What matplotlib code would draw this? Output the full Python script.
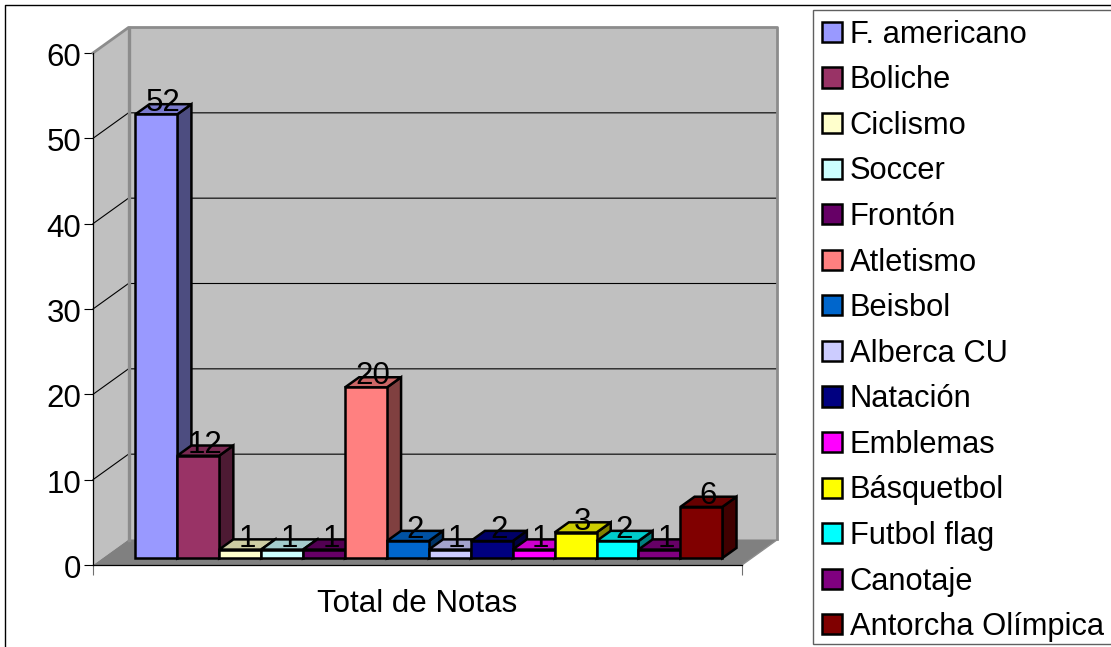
import matplotlib
matplotlib.use("Agg")
import matplotlib.pyplot as plt
from matplotlib.patches import Patch, Polygon, Rectangle
from matplotlib.lines import Line2D
from matplotlib.colors import to_rgb
from matplotlib.transforms import ScaledTranslation

categories = ["F. americano", "Boliche", "Ciclismo", "Soccer", "Frontón", "Atletismo", "Beisbol",
              "Alberca CU", "Natación", "Emblemas", "Básquetbol", "Futbol flag", "Canotaje",
              "Antorcha Olímpica"]
values = [52, 12, 1, 1, 1, 20, 2, 1, 2, 1, 3, 2, 1, 6]
colors = ["#9999FF", "#993366", "#FFFFCC", "#CCFFFF", "#660066", "#FF8080", "#0066CC",
          "#CCCCFF", "#000080", "#FF00FF", "#FFFF00", "#00FFFF", "#800080", "#800000"]
yticks = [0, 10, 20, 30, 40, 50, 60]
axis_title = "Total de Notas"

W, H = 1111, 647
FS = 22.5
LEG_FS = 22.2
LW = 1.8
plt.rcParams["font.family"] = ["Liberation Sans", "DejaVu Sans"]
fig = plt.figure(figsize=(W / 100, H / 100), dpi=100, facecolor="white")

# front plane of the 3-D box, in pixels
L, R, B, T = 93, 742, 565, 53
ax = fig.add_axes([L / W, 1 - B / H, (R - L) / W, (B - T) / H])
PX_X = 41.93
PX_Y = (B - T) / 60
DEPTH_X, DEPTH_Y = 35.5, 25.5
D0 = 0.27
D1 = 0.67
xmin = -0.78
xmax = xmin + (R - L) / PX_X
ax.set_xlim(xmin, xmax)
ax.set_ylim(0, 60)
ax.patch.set_visible(False)


def proj(x, v, d):
    return (x + d * DEPTH_X / PX_X, v + d * DEPTH_Y / PX_Y)


def poly(pts, fc, ec="black", lw=LW, z=2):
    ax.add_patch(Polygon(pts, closed=True, facecolor=fc, edgecolor=ec, linewidth=lw,
                         clip_on=False, zorder=z, joinstyle="miter"))


def shade(c, f):
    return tuple(f * k for k in to_rgb(c))


# walls and floor
poly([proj(xmin, 0, 0), proj(xmin, 60, 0), proj(xmin, 60, 1), proj(xmin, 0, 1)], "#C0C0C0", ec="none", z=1)
poly([proj(xmin, 0, 1), proj(xmax, 0, 1), proj(xmax, 60, 1), proj(xmin, 60, 1)], "#C0C0C0", ec="none", z=1)
poly([proj(xmin, 0, 0), proj(xmax, 0, 0), proj(xmax, 0, 1), proj(xmin, 0, 1)], "#808080", ec="none", z=1)

for v in yticks[1:-1]:
    a, b, c = proj(xmin, v, 0), proj(xmin, v, 1), proj(xmax, v, 1)
    ax.plot([a[0], b[0], c[0]], [a[1], b[1], c[1]], color="black", lw=0.8, clip_on=False, zorder=1.5)

a, b, c, d = proj(xmin, 60, 0), proj(xmin, 60, 1), proj(xmax, 60, 1), proj(xmax, 0, 1)
ax.plot([a[0], b[0], c[0], d[0]], [a[1], b[1], c[1], d[1]], color="#8C8C8C", lw=2.0, clip_on=False, zorder=1.6)
e, f = proj(xmin, 60, 1), proj(xmin, 0, 1)
ax.plot([e[0], f[0]], [e[1], f[1]], color="#8C8C8C", lw=2.4, clip_on=False, zorder=1.6)
g, h = proj(xmax, 0, 0), proj(xmax, 0, 1)
ax.plot([g[0], h[0]], [g[1], h[1]], color="#8C8C8C", lw=1.0, clip_on=False, zorder=1.6)

# bars, left to right
for i, (v, col) in enumerate(zip(values, colors)):
    x0, x1 = i, i + 1
    poly([proj(x1, 0, D0), proj(x1, 0, D1), proj(x1, v, D1), proj(x1, v, D0)], shade(col, 0.5), z=2 + i * 0.01)
    poly([proj(x0, v, D0), proj(x1, v, D0), proj(x1, v, D1), proj(x0, v, D1)], shade(col, 0.8), z=2 + i * 0.01)
    poly([proj(x0, 0, D0), proj(x1, 0, D0), proj(x1, v, D0), proj(x0, v, D0)], col, z=2 + i * 0.01)

for i, v in enumerate(values):
    ax.annotate(str(v), xy=proj(i + 0.5, v, D0), xytext=(7, 11), textcoords="offset pixels",
                ha="center", va="center", fontsize=FS, color="black", zorder=5, annotation_clip=False)

# axes
for s in ("top", "right"):
    ax.spines[s].set_visible(False)
for s in ("left", "bottom"):
    ax.spines[s].set_linewidth(0.9)
    ax.spines[s].set_zorder(4)
ax.set_yticks(yticks)
ax.tick_params(axis="y", length=6.5, width=0.8, labelsize=FS, pad=2)
shift = ScaledTranslation(0, -1.5 / 100, fig.dpi_scale_trans)
for lab in ax.get_yticklabels():
    lab.set_transform(lab.get_transform() + shift)
ax.set_xticks([xmin, xmax])
ax.set_xticklabels(["", ""])
ax.tick_params(axis="x", length=7, width=0.8, color="#707070")
ax.set_xlabel(axis_title, fontsize=FS, labelpad=7)

# legend frame runs off the right edge of the picture
fig.add_artist(Rectangle((813 / W, 1 - 644 / H), 310 / W, 634 / H, transform=fig.transFigure,
                         facecolor="white", edgecolor="#606060", linewidth=1.0))
handles = [Patch(facecolor=c, edgecolor="black", linewidth=LW) for c in colors]
leg = fig.legend(handles, categories, loc="upper left", bbox_to_anchor=(813 / W, 1 - 10.5 / H),
                 bbox_transform=fig.transFigure, fontsize=LEG_FS, frameon=False, borderaxespad=0,
                 handlelength=0.63, handleheight=0.63, handletextpad=0.26,
                 labelspacing=0.505, borderpad=0.3)

# outer chart border
fig.add_artist(Line2D([5 / W, 5 / W, 1], [0, 1 - 5 / H, 1 - 5 / H], color="black", lw=1.0,
                      transform=fig.transFigure))

fig.savefig("out.png", dpi=100)
